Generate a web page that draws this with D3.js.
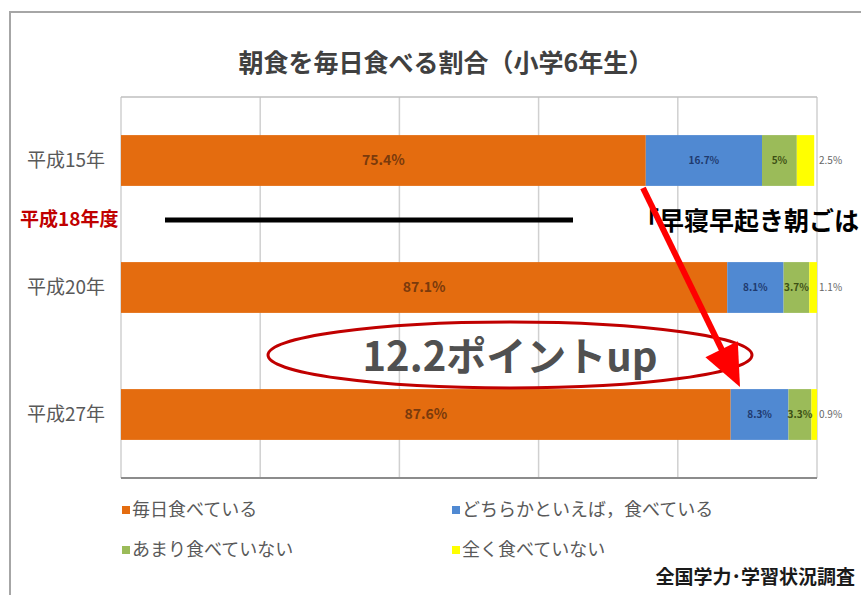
<!DOCTYPE html>
<html>
<head>
<meta charset="utf-8">
<script src="https://cdn.jsdelivr.net/npm/d3@7"></script>
<style>
  body { margin: 0; background: #fff; }
  svg { display: block; font-family: "Noto Sans CJK JP", "Noto Sans", sans-serif; }
</style>
</head>
<body>
<div id="chart"></div>
<script>
// chart data
var categories = ["平成15年", "平成20年", "平成27年"];
var seriesNames = ["毎日食べている", "どちらかといえば，食べている", "あまり食べていない", "全く食べていない"];
var everyDay = [75.4, 87.1, 87.6];
var mostly = [16.7, 8.1, 8.3];
var rarely = [5.0, 3.7, 3.3];
var never = [2.5, 1.1, 0.9];
var labelsEveryDay = ["75.4%", "87.1%", "87.6%"];
var labelsMostly = ["16.7%", "8.1%", "8.3%"];
var labelsRarely = ["5%", "3.7%", "3.3%"];
var labelsNever = ["2.5%", "1.1%", "0.9%"];
var xTicks = [0, 20, 40, 60, 80, 100];

var colors = ["#e46c0f", "#5089d2", "#9bbb59", "#ffff00"];
var labelColors = ["#7a3a0c", "#1f3a6e", "#3d5014", "#666"];

var width = 861, height = 595;

var svg = d3.select("#chart").append("svg")
    .attr("width", width)
    .attr("height", height);

// panel frame
svg.append("rect").attr("x", 10).attr("y", 12).attr("width", 870).attr("height", 600)
    .attr("fill", "#fff").attr("stroke", "#a6a6a6").attr("stroke-width", 2);

svg.append("text")
    .attr("x", 446).attr("y", 72)
    .attr("text-anchor", "middle")
    .attr("font-size", 25).attr("font-weight", "bold")
    .attr("fill", "#404040")
    .text("朝食を毎日食べる割合（小学6年生）");

var x = d3.scaleLinear().domain([0, 100]).range([121, 817]);
var y = d3.scaleBand().domain(categories).range([97, 478])
    .paddingInner(0.6).paddingOuter(0.3);

// grid
svg.append("g").selectAll("line").data(xTicks).enter().append("line")
    .attr("x1", function(d) { return x(d); })
    .attr("x2", function(d) { return x(d); })
    .attr("y1", 97).attr("y2", 478)
    .attr("stroke", "#d0d0d0").attr("stroke-width", 1.5);
svg.append("line").attr("x1", x(0)).attr("x2", x(100)).attr("y1", 97).attr("y2", 97)
    .attr("stroke", "#bfbfbf").attr("stroke-width", 1.5);
svg.append("line").attr("x1", x(0)).attr("x2", x(100)).attr("y1", 478).attr("y2", 478)
    .attr("stroke", "#8c8c8c").attr("stroke-width", 2);

// stacked bars
var rows = categories.map(function(c, i) {
    return { cat: c, s0: everyDay[i], s1: mostly[i], s2: rarely[i], s3: never[i] };
});
var labelSets = [labelsEveryDay, labelsMostly, labelsRarely, labelsNever];
var stack = d3.stack().keys(["s0", "s1", "s2", "s3"]);
var layers = stack(rows);

var layer = svg.selectAll("g.layer").data(layers).enter().append("g")
    .attr("class", "layer")
    .attr("fill", function(d, i) { return colors[i]; });

layer.selectAll("rect").data(function(d) { return d; }).enter().append("rect")
    .attr("x", function(d) { return x(d[0]); })
    .attr("y", function(d) { return y(d.data.cat); })
    .attr("width", function(d) { return x(Math.min(d[1], 100)) - x(d[0]); })
    .attr("height", y.bandwidth());

layers.forEach(function(l, k) {
    svg.append("g").selectAll("text").data(l).enter().append("text")
        .attr("x", function(d) { return k == 3 ? x(100) + 2 : (x(d[0]) + x(d[1])) / 2; })
        .attr("y", function(d) { return y(d.data.cat) + y.bandwidth() / 2; })
        .attr("dy", "0.35em")
        .attr("text-anchor", k == 3 ? "start" : "middle")
        .attr("font-size", k == 0 ? 14 : 10)
        .attr("font-weight", k == 3 ? "normal" : "bold")
        .attr("fill", labelColors[k])
        .text(function(d, i) { return labelSets[k][i]; });
});

// category labels
svg.append("g").selectAll("text").data(categories).enter().append("text")
    .attr("x", 66)
    .attr("y", function(d) { return y(d) + y.bandwidth() / 2; })
    .attr("dy", "0.35em")
    .attr("text-anchor", "middle")
    .attr("font-size", 19)
    .attr("fill", "#595959")
    .text(function(d) { return d; });

// legend
var legendPos = [[122, 510], [452, 510], [122, 550], [452, 550]];
var legend = svg.selectAll("g.legend").data(seriesNames).enter().append("g")
    .attr("class", "legend")
    .attr("transform", function(d, i) { return "translate(" + legendPos[i][0] + "," + legendPos[i][1] + ")"; });
legend.append("rect").attr("x", 0).attr("y", -4).attr("width", 8).attr("height", 8)
    .attr("fill", function(d, i) { return colors[i]; });
legend.append("text").attr("x", 10).attr("dy", "0.35em")
    .attr("font-size", 18).attr("fill", "#595959")
    .text(function(d) { return d; });

svg.append("text")
    .attr("x", 855).attr("y", 584)
    .attr("text-anchor", "end")
    .attr("font-size", 19).attr("font-weight", "bold")
    .attr("fill", "#1a1a1a")
    .text("全国学力･学習状況調査");

// annotations
svg.append("text")
    .attr("x", 20).attr("y", 226)
    .attr("font-size", 19).attr("font-weight", "bold")
    .attr("fill", "#c00000")
    .text("平成18年度");
svg.append("line").attr("x1", 165).attr("x2", 573).attr("y1", 220).attr("y2", 220)
    .attr("stroke", "#000").attr("stroke-width", 5);
svg.append("text")
    .attr("x", 634).attr("y", 230)
    .attr("font-size", 25).attr("font-weight", "bold")
    .attr("fill", "#000")
    .text("「早寝早起き朝ごは");

svg.append("ellipse")
    .attr("cx", 510).attr("cy", 355).attr("rx", 242).attr("ry", 33)
    .attr("fill", "none").attr("stroke", "#c00000").attr("stroke-width", 3);
svg.append("text")
    .attr("x", 510).attr("y", 371)
    .attr("text-anchor", "middle")
    .attr("font-size", 40).attr("font-weight", "bold")
    .attr("fill", "#505050")
    .text("12.2ポイントup");

// red arrow
var tip = [740, 387], start = [643, 188];
var dx = tip[0] - start[0], dy = tip[1] - start[1];
var len = Math.sqrt(dx * dx + dy * dy);
var ux = dx / len, uy = dy / len;
var bx = tip[0] - 42 * ux, by = tip[1] - 42 * uy;
svg.append("line")
    .attr("x1", start[0]).attr("y1", start[1])
    .attr("x2", bx + 4 * ux).attr("y2", by + 4 * uy)
    .attr("stroke", "#ff0000").attr("stroke-width", 6);
svg.append("path")
    .attr("d", "M" + tip[0] + "," + tip[1] +
        "L" + (bx + 18 * -uy) + "," + (by + 18 * ux) +
        "L" + (bx - 18 * -uy) + "," + (by - 18 * ux) + "Z")
    .attr("fill", "#ff0000");
</script>
</body>
</html>
